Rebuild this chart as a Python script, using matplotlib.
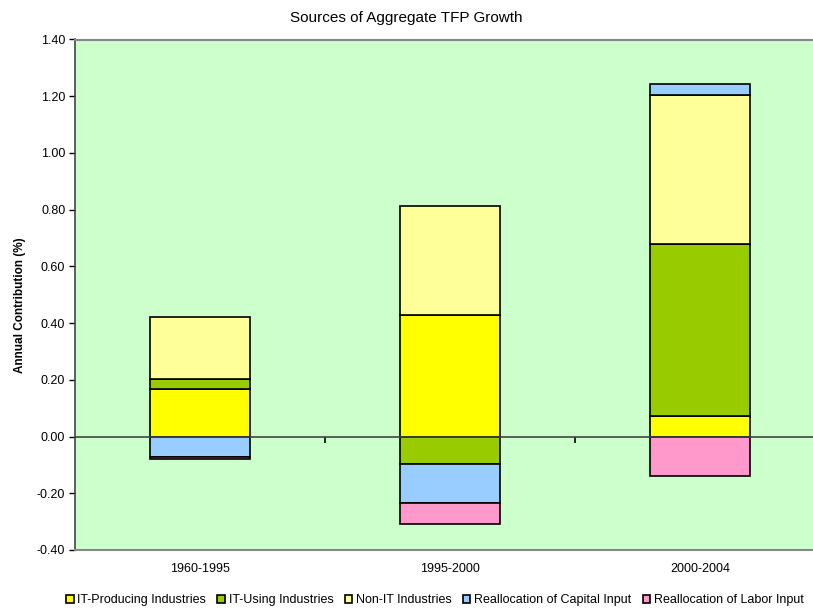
import matplotlib.pyplot as plt
from matplotlib.patches import Patch
from matplotlib.ticker import FormatStrFormatter

plt.rcParams['font.family'] = ['Liberation Sans', 'DejaVu Sans']

periods = ['1960-1995', '1995-2000', '2000-2004']
series = ['IT-Producing Industries', 'IT-Using Industries', 'Non-IT Industries',
          'Reallocation of Capital Input', 'Reallocation of Labor Input']
it_prod = [0.167, 0.430, 0.074]
it_use = [0.037, -0.096, 0.605]
non_it = [0.216, 0.384, 0.527]
realloc_cap = [-0.071, -0.138, 0.038]
realloc_lab = [-0.008, -0.076, -0.139]
colors = ['#FFFF00', '#99CC00', '#FFFF99', '#99CCFF', '#FF99CC']

fig = plt.figure(figsize=(8.13, 6.14), dpi=100)
ax = fig.add_axes([75 / 813, 1 - 550 / 614, 1 - 75 / 813, (550 - 39.5) / 614])
ax.set_facecolor('#CCFFCC')

x = list(range(len(periods)))
pos = [0.0] * len(periods)
neg = [0.0] * len(periods)
for vals, col, name in zip([it_prod, it_use, non_it, realloc_cap, realloc_lab], colors, series):
    bottoms = []
    for i, v in enumerate(vals):
        if v >= 0:
            bottoms.append(pos[i])
            pos[i] += v
        else:
            bottoms.append(neg[i])
            neg[i] += v
    ax.bar(x, vals, bottom=bottoms, width=0.4, color=col, edgecolor='black',
           linewidth=1.2, label=name, zorder=3)

ymin, ymax = -0.4, 1.4
ax.set_ylim(ymin, ymax)
ax.set_xlim(-0.5, -0.5 + 738 / 250)
ax.set_yticks([ymin + 0.2 * k for k in range(10)])
ax.yaxis.set_major_formatter(FormatStrFormatter('%.2f'))
ax.tick_params(axis='y', direction='out', length=4, width=1, labelsize=9, pad=3)
ax.set_xticks(x)
ax.set_xticklabels(periods)
ax.tick_params(axis='x', length=0, labelsize=9, pad=9)
ax.set_ylabel('Annual Contribution (%)', fontsize=8.5, fontweight='bold')
ax.yaxis.set_label_coords(-0.067, 0.48)

ax.spines['left'].set_color('#444444')
ax.spines['left'].set_linewidth(1.2)
ax.spines['right'].set_visible(False)
for s in ['top', 'bottom']:
    ax.spines[s].set_color('#888888')
    ax.spines[s].set_linewidth(1.5)

# zero axis with category separator ticks
ax.axhline(0, color='#444444', linewidth=1.2, zorder=4)
zero = ax.secondary_xaxis((0 - ymin) / (ymax - ymin))
zero.set_xticks([i + 0.5 for i in x[:-1]])
zero.set_xticklabels([])
zero.tick_params(direction='out', length=4, width=1.2, color='black')
zero.spines['bottom'].set_visible(False)

fig.text(0.5, 1 - 18 / 614, 'Sources of Aggregate TFP Growth', ha='center', va='center', fontsize=11)

handles = [Patch(facecolor=c, edgecolor='black', linewidth=1.2) for c in colors]
fig.legend(handles, series, loc='center', bbox_to_anchor=(0.535, 1 - 600 / 614), ncol=5,
           frameon=False, fontsize=9, handlelength=0.6, handleheight=0.6,
           handletextpad=0.3, columnspacing=0.9)

fig.savefig('out.png', dpi=100)
